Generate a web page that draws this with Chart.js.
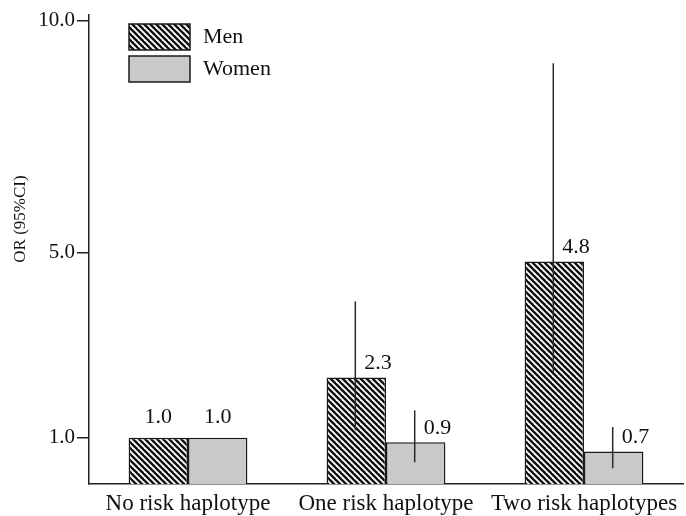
<!DOCTYPE html>
<html><head><meta charset="utf-8">
<script src="https://cdn.jsdelivr.net/npm/chart.js@4/dist/chart.umd.min.js"></script>
<style>html,body{margin:0;padding:0;background:#fff}#wrap{width:686px;height:516px}</style>
</head><body><div id="wrap"><canvas id="c" width="686" height="516"></canvas></div>
<script>
const categories = ['No risk haplotype', 'One risk haplotype', 'Two risk haplotypes'];
const seriesNames = ['Men', 'Women'];
const menOR = [1.0, 2.3, 4.8];
const womenOR = [1.0, 0.9, 0.7];
const menCILow = [null, 1.16, 2.39];
const menCIHigh = [null, 3.94, 9.08];
const womenCILow = [null, 0.47, 0.34];
const womenCIHigh = [null, 1.59, 1.23];
const yTickValues = [1, 5, 10];
const axisTitle = 'OR (95%CI)';

const FONT = 'Liberation Serif';
const canvas = document.getElementById('c');
const ctx = canvas.getContext('2d');

function makeHatch() {
  const s = 6;
  const t = document.createElement('canvas');
  t.width = s; t.height = s;
  const g = t.getContext('2d');
  g.fillStyle = '#ffffff';
  g.fillRect(0, 0, s, s);
  g.strokeStyle = '#111111';
  g.lineWidth = 2.4;
  for (const k of [-s, 0, s]) {
    g.beginPath();
    g.moveTo(k - 1, -1);
    g.lineTo(k + s + 1, s + 1);
    g.stroke();
  }
  return ctx.createPattern(t, 'repeat');
}
const hatch = makeHatch();

const errorBarsPlugin = {
  id: 'errorBars',
  afterDatasetsDraw(chart) {
    const y = chart.scales.y;
    const c = chart.ctx;
    c.save();
    c.strokeStyle = '#2a2a2a';
    c.lineWidth = 1.5;
    chart.data.datasets.forEach((ds, i) => {
      const meta = chart.getDatasetMeta(i);
      meta.data.forEach((bar, j) => {
        const lo = ds.ciLow[j], hi = ds.ciHigh[j];
        if (lo == null || hi == null) return;
        c.beginPath();
        c.moveTo(bar.x - 1, y.getPixelForValue(lo));
        c.lineTo(bar.x - 1, y.getPixelForValue(hi));
        c.stroke();
      });
    });
    c.restore();
  }
};

const valueLabelsPlugin = {
  id: 'valueLabels',
  afterDatasetsDraw(chart) {
    const c = chart.ctx;
    c.save();
    c.fillStyle = '#111';
    c.font = '22px "' + FONT + '"';
    c.textBaseline = 'middle';
    chart.data.datasets.forEach((ds, i) => {
      const meta = chart.getDatasetMeta(i);
      meta.data.forEach((bar, j) => {
        const txt = ds.data[j].toFixed(1);
        if (ds.ciLow[j] != null) {
          c.textAlign = 'left';
          c.fillText(txt, bar.x + 8, bar.y - 14);
        } else {
          c.textAlign = 'center';
          c.fillText(txt, bar.x, bar.y - 20);
        }
      });
    });
    c.restore();
  }
};

const legendPlugin = {
  id: 'customLegend',
  afterDraw(chart) {
    const c = chart.ctx;
    c.save();
    c.font = '22px "' + FONT + '"';
    c.textBaseline = 'middle';
    c.textAlign = 'left';
    chart.data.datasets.forEach((ds, i) => {
      const bx = 129, by = 24 + i * 32, bw = 61, bh = 26;
      c.fillStyle = ds.backgroundColor;
      c.fillRect(bx, by, bw, bh);
      c.strokeStyle = '#1a1a1a';
      c.lineWidth = 1.5;
      c.strokeRect(bx, by, bw, bh);
      c.fillStyle = '#111';
      c.fillText(ds.label, 203, by + bh / 2);
    });
    c.restore();
  }
};

const axisTitlePlugin = {
  id: 'axisTitle',
  afterDraw(chart) {
    const c = chart.ctx;
    c.save();
    c.translate(21, 219);
    c.rotate(-Math.PI / 2);
    c.font = '17px "' + FONT + '"';
    c.fillStyle = '#111';
    c.textAlign = 'center';
    c.textBaseline = 'middle';
    c.fillText(axisTitle, 0, 0);
    c.restore();
  }
};

new Chart(ctx, {
  type: 'bar',
  data: {
    labels: categories,
    datasets: [
      { label: seriesNames[0], data: menOR, backgroundColor: hatch, borderColor: '#1a1a1a', borderWidth: 1.5, ciLow: menCILow, ciHigh: menCIHigh },
      { label: seriesNames[1], data: womenOR, backgroundColor: '#c9c9c9', borderColor: '#1a1a1a', borderWidth: 1.5, ciLow: womenCILow, ciHigh: womenCIHigh }
    ]
  },
  options: {
    responsive: false,
    animation: false,
    devicePixelRatio: 1,
    layout: { padding: { top: 13, right: 3, left: 0, bottom: 0 } },
    datasets: { bar: { categoryPercentage: 0.6, barPercentage: 1.0 } },
    plugins: { legend: { display: false }, tooltip: { enabled: false } },
    scales: {
      x: {
        grid: { display: false, drawTicks: false },
        border: { display: true, color: '#222', width: 1.5 },
        ticks: { color: '#111', font: { family: FONT, size: 23 }, padding: 6, maxRotation: 0, autoSkip: false },
        afterFit: s => { s.height = 32; }
      },
      y: {
        min: 0, max: 10.13,
        afterBuildTicks: s => { s.ticks = yTickValues.map(v => ({ value: v })); },
        ticks: { callback: v => Number(v).toFixed(1), color: '#111', font: { family: FONT, size: 21 }, padding: 2 },
        grid: { display: true, drawOnChartArea: false, drawTicks: true, tickLength: 12, color: '#222', lineWidth: 1.5 },
        border: { display: true, color: '#222', width: 1.5 },
        afterFit: s => { s.width = 89; }
      }
    }
  },
  plugins: [errorBarsPlugin, valueLabelsPlugin, legendPlugin, axisTitlePlugin]
});
</script>
</body></html>
